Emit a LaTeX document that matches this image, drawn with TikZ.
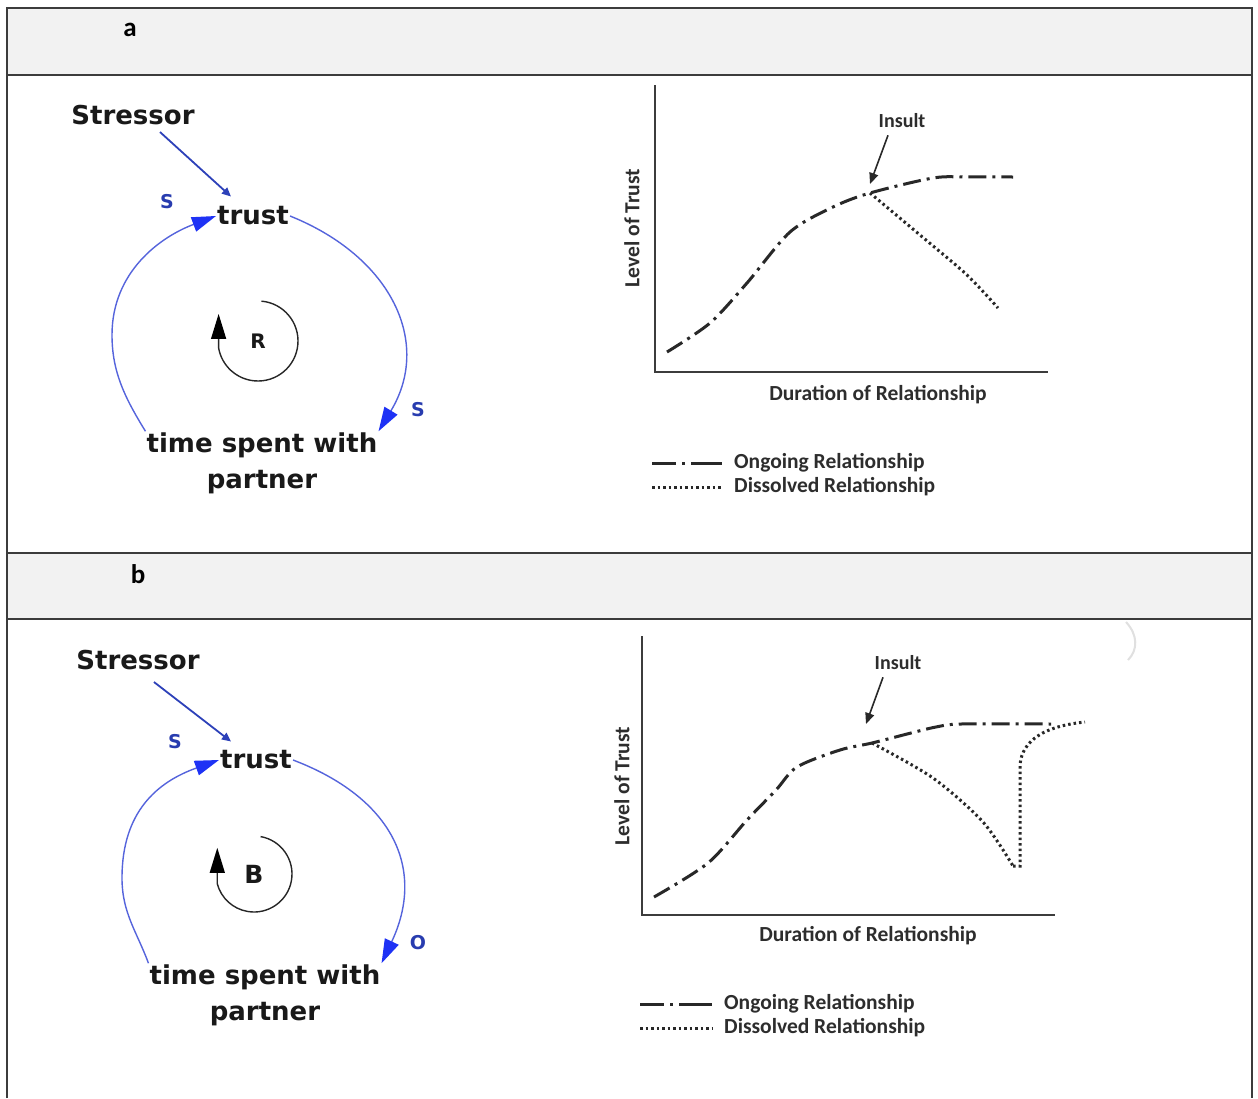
\documentclass[tikz,border=0pt]{standalone}
\usepackage{fontspec}
\usetikzlibrary{arrows.meta,calc}
\newfontfamily\dvfont{DejaVu Sans}
\newfontfamily\cbfont{Carlito}
\definecolor{tblline}{RGB}{60,60,60}
\definecolor{hdrfill}{RGB}{242,242,242}
\definecolor{txt}{RGB}{25,25,25}
\definecolor{loopblue}{RGB}{85,100,220}
\definecolor{tipblue}{RGB}{30,50,245}
\definecolor{stressblue}{RGB}{45,65,185}
\definecolor{lblblue}{RGB}{40,60,175}
\definecolor{gline}{RGB}{40,40,40}
\definecolor{gtext}{RGB}{45,45,45}
\begin{document}
\begin{tikzpicture}[x=1pt,y=-1pt,
  tbl/.style={draw=tblline,line width=1.6pt},
  hdrlbl/.style={font=\cbfont\bfseries\fontsize{27}{30}\selectfont,text=black,inner sep=0pt},
  lbl/.style={font=\dvfont\bfseries\fontsize{26}{36}\selectfont,text=txt,inner sep=1pt,align=center},
  pol/.style={font=\dvfont\bfseries\fontsize{19}{20}\selectfont,text=lblblue,inner sep=0pt},
  looplbl/.style={font=\dvfont\bfseries\fontsize{#1}{22}\selectfont,text=txt,inner sep=0pt},
  link/.style={draw=loopblue,line width=1.4pt,-{Triangle[length=24pt,width=15pt,color=tipblue]}},
  sarrow/.style={draw=stressblue,line width=1.8pt,-{Triangle[length=9pt,width=8pt,color=stressblue]}},
  loopdir/.style={draw=black!85,line width=1.4pt,-{Triangle[length=25pt,width=15pt,color=black]}},
  gtxt/.style={font=\cbfont\bfseries\fontsize{21.5}{24}\selectfont,text=gtext,inner sep=0pt},
  axis/.style={draw=tblline,line width=2.2pt},
  ongoing/.style={draw=gline,line width=3pt,dash pattern=on 18pt off 6pt on 3pt off 6pt},
  ongoingleg/.style={draw=gline,line width=3pt,dash pattern=on 24pt off 6pt on 3pt off 6pt on 40pt off 10pt},
  dissolved/.style={draw=gline,line width=3pt,dash pattern=on 2.5pt off 3pt},
  insarrow/.style={draw=gline,line width=1.6pt,-{Triangle[length=11pt,width=9pt,color=gline]}}
]
\useasboundingbox (0,0) rectangle (1258,1098);
\fill[white] (0,0) rectangle (1258,1098);
% table
\fill[hdrfill] (7,8) rectangle (1252,75);
\fill[hdrfill] (7,553) rectangle (1252,619);
\draw[tbl] (7,1098) -- (7,8) -- (1252,8) -- (1252,1098);
\draw[tbl] (7,75) -- (1252,75);
\draw[tbl] (7,553) -- (1252,553);
\draw[tbl] (7,619) -- (1252,619);
\node[hdrlbl] (la) at (130,30) {a};
\node[hdrlbl] (lb) at (138,574) {b};

% ---------- panel a : causal loop ----------
\node[lbl] (stressA) at (133,115) {Stressor};
\node[lbl] (trustA) at (253,216) {trust};
\node[lbl] (timeA) at (262,463) {time spent with\\partner};
\node[pol] (sA1) at (167,202) {S};
\node[pol] (sA2) at (418,410) {S};
\node[looplbl=20] (rA) at (258,341) {R};
\draw[sarrow] ($(stressA.south)+(27,6)$) -- ($(trustA.north west)+(15,-9)$);
\draw[link] (timeA.north west) .. controls (125,398) and (112,372) .. (112,335)
   .. controls (112,272) and (160,237) .. (trustA.west);
\draw[link] (trustA.east) .. controls (392,257) and (432,343) .. (timeA.north east);
\draw[loopdir] (rA.center) ++(-85:40) arc[start angle=-85,end angle=170,radius=40] -- ++(0,-34);

% ---------- panel a : graph ----------
\coordinate (oA) at (655,372);
\draw[axis] (655,85) -- (oA) -- (1048,372);
\node[gtxt,rotate=90] (yA) at (632,228) {Level of Trust};
\node[gtxt] (xA) at (878,395) {Duration of Relationship};
\node[gtxt,font=\cbfont\bfseries\fontsize{20}{22}\selectfont] (insA) at (902,121) {Insult};
\coordinate (insA1) at (870,184);
\draw[insarrow] ($(insA.south)+(-14,7)$) -- (insA1);
\draw[ongoing] plot[smooth,tension=0.5] coordinates {(667,352) (710,323) (747,283) (790,232) (833,207) (870,193) (933,178) (967,177) (1013,177)};
\draw[dissolved] plot[smooth,tension=0.5] coordinates {(870,193) (920,235) (967,275) (998,308)};
\node[gtxt,anchor=west] (legA1) at (734,463) {Ongoing Relationship};
\node[gtxt,anchor=west] (legA2) at (734,487) {Dissolved Relationship};
\draw[ongoingleg] ($(legA1.west)+(-82,0)$) -- ($(legA1.west)+(-12,0)$);
\draw[dissolved] ($(legA2.west)+(-82,0)$) -- ($(legA2.west)+(-12,0)$);

% ---------- panel b : causal loop ----------
\node[lbl] (stressB) at (138,660) {Stressor};
\node[lbl] (trustB) at (256,760) {trust};
\node[lbl] (timeB) at (265,995) {time spent with\\partner};
\node[pol] (sB1) at (175,742) {S};
\node[pol] (oB) at (418,943) {O};
\node[looplbl=25] (bB) at (254,874) {B};
\draw[sarrow] ($(stressB.south)+(16,11)$) -- ($(trustB.north west)+(12,-8)$);
\draw[link] (timeB.north west) .. controls (137,932) and (122,913) .. (122,878)
   .. controls (122,812) and (157,782) .. (trustB.west);
\draw[link] (trustB.east) .. controls (393,798) and (426,869) .. (timeB.north east);
\draw[loopdir] (bB.center) ++(-80:38) arc[start angle=-80,end angle=165,radius=38] -- ++(0,-36);

% ---------- panel b : graph ----------
\coordinate (oB2) at (642,915);
\draw[axis] (642,636) -- (oB2) -- (1055,915);
\node[gtxt,rotate=90] (yB) at (622,786) {Level of Trust};
\node[gtxt] (xB) at (868,936) {Duration of Relationship};
\node[gtxt,font=\cbfont\bfseries\fontsize{20}{22}\selectfont] (insB) at (898,663) {Insult};
\coordinate (insB1) at (866,724);
\draw[insarrow] ($(insB.south)+(-15,7)$) -- (insB1);
\draw[ongoing] plot[smooth,tension=0.5] coordinates {(654,897) (708,863) (747,820) (776,790) (797,767) (840,750) (872,743) (911,733) (936,727) (961,724) (1051,724)};
\draw[dissolved] plot[smooth,tension=0.5] coordinates {(872,743) (933,778) (983,822) (1013,866)};
\draw[dissolved] (1013,866) -- (1020,866) -- (1020,765) .. controls (1022,740) and (1045,726) .. (1085,722);
\node[gtxt,anchor=west] (legB1) at (724,1004) {Ongoing Relationship};
\node[gtxt,anchor=west] (legB2) at (724,1028) {Dissolved Relationship};
\draw[ongoingleg] ($(legB1.west)+(-84,0)$) -- ($(legB1.west)+(-12,0)$);
\draw[dissolved] ($(legB2.west)+(-84,0)$) -- ($(legB2.west)+(-12,0)$);
\draw[black!12,line width=2pt] (1126,622) .. controls (1138,635) and (1138,650) .. (1128,660);
\end{tikzpicture}
\end{document}
